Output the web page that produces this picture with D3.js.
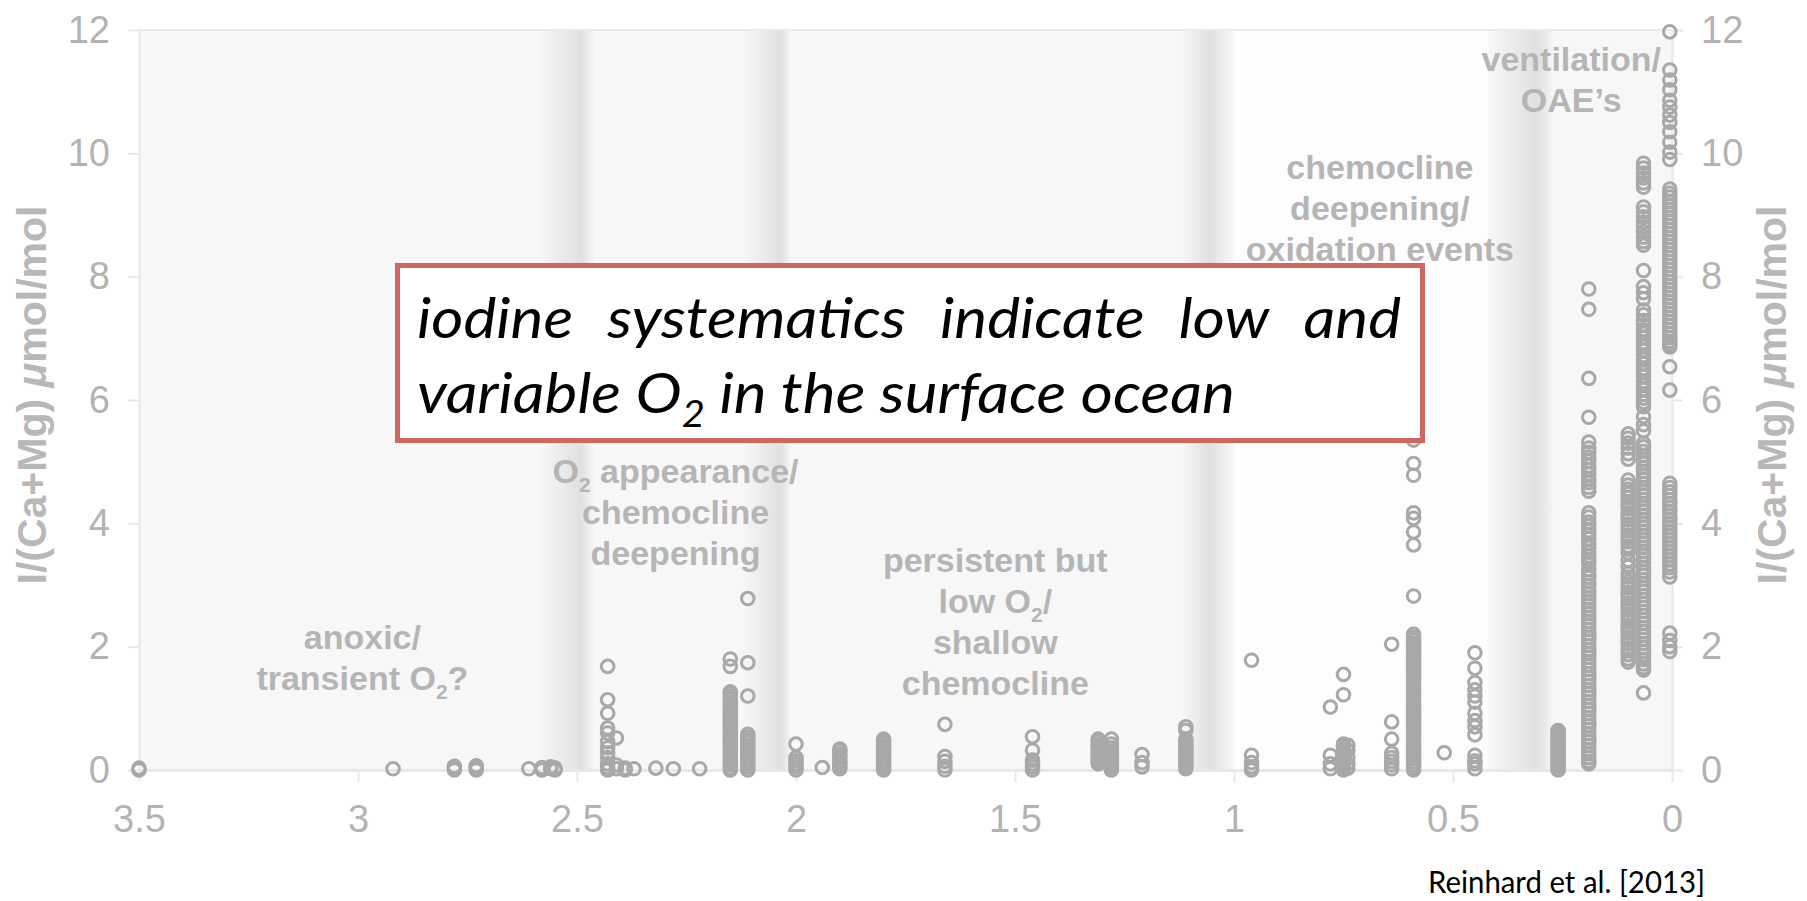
<!DOCTYPE html>
<html>
<head>
<meta charset="utf-8">
<script src="https://cdn.jsdelivr.net/npm/d3@7"></script>
<style>
  html, body { margin: 0; padding: 0; background: #ffffff; }
  svg { display: block; }
</style>
</head>
<body>
<svg id="chart" width="1807" height="901"></svg>
<script>
// I/(Ca+Mg) in µmol/mol against age in Ga.
// Each entry: [age, [values measured at that age]], grouped by interval.
const archean = [
  [3.50, [0.00, 0.03]],
  [2.92, [0.02]],
  [2.78, [0.00, 0.03, 0.06]],
  [2.73, [0.00, 0.04, 0.07]],
  [2.61, [0.02]],
  [2.58, [0.00, 0.04]],
  [2.56, [0.02, 0.05]],
  [2.55, [0.00, 0.03]]
];

const greatOxidation = [
  [2.43, [1.68, 1.14, 0.92, 0.68, 0.60, 0.46, 0.36, 0.28, 0.20, 0.10, 0.04, 0.00]],
  [2.41, [0.52, 0.08, 0.02]],
  [2.39, [0.03, 0.00]],
  [2.37, [0.02]],
  [2.32, [0.03]],
  [2.28, [0.02]],
  [2.22, [0.02]],
  [2.15, [1.80, 1.68, 1.27, 1.24, 1.19, 1.15, 1.10, 1.07, 1.02, 0.98, 0.93, 0.90, 0.86, 0.81,
          0.78, 0.73, 0.69, 0.66, 0.61, 0.57, 0.52, 0.49, 0.44, 0.41, 0.36, 0.32, 0.27, 0.24,
          0.19, 0.15, 0.11, 0.08, 0.03, 0.00]],
  [2.11, [2.78, 1.74, 1.20, 0.58, 0.53, 0.49, 0.45, 0.40, 0.36, 0.32, 0.27, 0.23, 0.19, 0.14,
          0.10, 0.05, 0.00]]
];

const midProterozoic = [
  [2.00, [0.42, 0.20, 0.15, 0.10, 0.05, 0.00]],
  [1.94, [0.04]],
  [1.90, [0.34, 0.31, 0.26, 0.22, 0.19, 0.14, 0.10, 0.06, 0.02]],
  [1.80, [0.50, 0.47, 0.43, 0.38, 0.35, 0.31, 0.26, 0.23, 0.19, 0.14, 0.11, 0.07, 0.03, 0.00]],
  [1.66, [0.74, 0.22, 0.14, 0.06, 0.00]],
  [1.46, [0.54, 0.32, 0.16, 0.10, 0.05, 0.00]],
  [1.31, [0.50, 0.46, 0.41, 0.38, 0.34, 0.29, 0.26, 0.22, 0.17, 0.14, 0.10]],
  [1.28, [0.50, 0.42, 0.36, 0.31, 0.26, 0.22, 0.17, 0.14, 0.10, 0.06, 0.02, 0.00]],
  [1.21, [0.25, 0.12, 0.05]],
  [1.11, [0.70, 0.64, 0.50, 0.46, 0.41, 0.38, 0.33, 0.30, 0.26, 0.21, 0.18, 0.14, 0.09, 0.06, 0.02]]
];

const neoproterozoic = [
  [0.96, [1.78, 0.24, 0.12, 0.05, 0.00]],
  [0.78, [1.02, 0.24, 0.10, 0.02]],
  [0.75, [1.55, 1.22, 0.42, 0.38, 0.33, 0.30, 0.26, 0.21, 0.18, 0.14, 0.09, 0.06, 0.02, 0.00]],
  [0.74, [0.40, 0.32, 0.20, 0.10, 0.03]],
  [0.64, [2.04, 0.78, 0.50, 0.27, 0.20, 0.14, 0.08, 0.02]],
  [0.59, [5.35, 4.97, 4.78, 4.17, 4.08, 3.86, 3.65, 2.82, 2.20, 2.15, 2.11, 2.06, 2.02, 1.97,
          1.93, 1.89, 1.84, 1.80, 1.74, 1.71, 1.66, 1.61, 1.57, 1.53, 1.48, 1.44, 1.39, 1.34,
          1.30, 1.26, 1.21, 1.17, 1.12, 1.07, 1.03, 0.99, 0.94, 0.90, 0.85, 0.80, 0.76, 0.72,
          0.67, 0.62, 0.58, 0.54, 0.49, 0.45, 0.40, 0.35, 0.31, 0.27, 0.22, 0.18, 0.13, 0.08,
          0.04, 0.00]],
  [0.52, [0.28]],
  [0.45, [1.90, 1.65, 1.42, 1.30, 1.20, 1.10, 0.92, 0.80, 0.70, 0.57, 0.24, 0.15, 0.10, 0.02]]
];

const phanerozoic = [
  [0.26, [0.64, 0.61, 0.57, 0.53, 0.50, 0.46, 0.42, 0.39, 0.35, 0.31, 0.28, 0.24, 0.20, 0.17,
          0.13, 0.09, 0.06, 0.02, 0.00]],
  [0.19, [7.80, 7.47, 6.35, 5.72, 5.32, 5.22, 5.15, 5.07, 5.01, 4.93, 4.87, 4.80, 4.72, 4.66,
          4.58, 4.52, 4.17, 4.10, 4.02, 3.96, 3.88, 3.82, 3.75, 3.67, 3.61, 3.53, 3.47, 3.40,
          3.35, 3.25, 3.18, 3.12, 3.05, 2.99, 2.92, 2.86, 2.79, 2.73, 2.67, 2.60, 2.54, 2.47,
          2.41, 2.35, 2.28, 2.21, 2.15, 2.09, 2.02, 1.95, 1.89, 1.83, 1.76, 1.70, 1.63, 1.56,
          1.50, 1.44, 1.37, 1.30, 1.24, 1.18, 1.11, 1.04, 0.98, 0.92, 0.85, 0.78, 0.72, 0.66,
          0.59, 0.52, 0.46, 0.40, 0.33, 0.26, 0.20, 0.14, 0.10]],
  [0.10, [5.45, 5.38, 5.30, 5.22, 5.13, 5.04, 4.70, 4.62, 4.55, 4.48, 4.42, 4.35, 4.30, 4.24,
          4.17, 4.12, 4.06, 3.99, 3.94, 3.88, 3.81, 3.76, 3.70, 3.63, 3.58, 3.52, 3.40, 3.30,
          3.19, 3.13, 3.06, 3.01, 2.95, 2.88, 2.83, 2.77, 2.70, 2.65, 2.59, 2.52, 2.47, 2.41,
          2.34, 2.29, 2.23, 2.16, 2.11, 2.05, 1.98, 1.93, 1.87, 1.80, 1.75]],
  [0.065, [9.84, 9.76, 9.68, 9.60, 9.52, 9.45, 9.13, 9.05, 8.97, 8.88, 8.81, 8.73, 8.64, 8.57,
           8.51, 8.10, 7.84, 7.74, 7.64, 7.46, 7.38, 7.29, 7.22, 7.14, 7.08, 7.01, 6.93, 6.87,
           6.80, 6.72, 6.66, 6.59, 6.51, 6.45, 6.38, 6.30, 6.24, 6.17, 6.09, 6.03, 5.96, 5.89,
           5.73, 5.60, 5.50, 5.30, 5.24, 5.17, 5.10, 5.04, 4.98, 4.91, 4.84, 4.78, 4.72, 4.65,
           4.58, 4.52, 4.46, 4.39, 4.32, 4.26, 4.20, 4.13, 4.06, 4.00, 3.94, 3.87, 3.80, 3.74,
           3.68, 3.61, 3.54, 3.48, 3.42, 3.35, 3.28, 3.22, 3.16, 3.09, 3.02, 2.96, 2.90, 2.83,
           2.76, 2.70, 2.64, 2.57, 2.50, 2.44, 2.38, 2.31, 2.24, 2.18, 2.12, 2.05, 1.98, 1.92,
           1.86, 1.79, 1.72, 1.66, 1.62, 1.25]],
  [0.005, [11.97, 11.35, 11.19, 11.03, 10.86, 10.75, 10.62, 10.50, 10.35, 10.18, 10.02, 9.90,
           9.42, 9.35, 9.29, 9.22, 9.16, 9.09, 9.03, 8.96, 8.90, 8.83, 8.77, 8.70, 8.64, 8.57,
           8.51, 8.44, 8.38, 8.31, 8.25, 8.18, 8.12, 8.05, 7.99, 7.92, 7.86, 7.79, 7.73, 7.66,
           7.60, 7.53, 7.47, 7.40, 7.34, 7.27, 7.21, 7.14, 7.08, 7.01, 6.95, 6.90, 6.86, 6.54,
           6.16, 4.65, 4.58, 4.51, 4.45, 4.38, 4.32, 4.25, 4.19, 4.12, 4.06, 3.99, 3.93, 3.86,
           3.80, 3.73, 3.67, 3.60, 3.54, 3.47, 3.41, 3.34, 3.28, 3.21, 3.13, 2.22, 2.10, 2.00,
           1.92]]
];

const xTicks = [3.5, 3, 2.5, 2, 1.5, 1, 0.5, 0];
const yTicks = [0, 2, 4, 6, 8, 10, 12];

// Shaded transitions between intervals: [start age, darkest age, end age]
const shadeBands = [
  [2.585, 2.49, 2.46],
  [2.12, 2.035, 2.01],
  [1.12, 1.055, 1.00],
  [0.42, 0.305, 0.27]
];
// Interval with the lighter backdrop
const brightSpan = [1.00, 0.42];

// Interval notes: anchor (age, value) of the first line's baseline; "_2" marks a subscript 2
const notes = [
  { age: 2.99,  value: 1.96,  lines: ["anoxic/", "transient O_2?"] },
  { age: 2.275, value: 4.65,  lines: ["O_2 appearance/", "chemocline", "deepening"] },
  { age: 1.545, value: 3.21,  lines: ["persistent but", "low O_2/", "shallow", "chemocline"] },
  { age: 0.667, value: 9.58,  lines: ["chemocline", "deepening/", "oxidation events"] },
  { age: 0.23,  value: 11.33, lines: ["ventilation/", "OAE\u2019s"] }
];

const boxLines = ["iodine systematics indicate low and", "variable O_2 in the surface ocean"];
const citation = "Reinhard et al. [2013]";
const yTitle = ["I/(Ca+Mg) ", "\u03bc", "mol/mol"];

// ---------------------------------------------------------------------------
const svg = d3.select("#chart");
const sansFont = "'Liberation Sans', Arial, Helvetica, sans-serif";
const gray = "#b3b3b3";

const x = d3.scaleLinear().domain([3.5, 0]).range([139, 1672]);
const y = d3.scaleLinear().domain([0, 12]).range([770, 30]);

// Plot backdrop
const defs = svg.append("defs");
const rise = defs.append("linearGradient").attr("id", "shadeRise");
rise.append("stop").attr("offset", 0).attr("stop-color", "#d6d6d6").attr("stop-opacity", 0);
rise.append("stop").attr("offset", 1).attr("stop-color", "#d6d6d6").attr("stop-opacity", 0.7);
const fall = defs.append("linearGradient").attr("id", "shadeFall");
fall.append("stop").attr("offset", 0).attr("stop-color", "#d6d6d6").attr("stop-opacity", 0.7);
fall.append("stop").attr("offset", 1).attr("stop-color", "#d6d6d6").attr("stop-opacity", 0);

const back = svg.append("g");
back.append("rect")
  .attr("x", x(3.5)).attr("y", y(12))
  .attr("width", x(0) - x(3.5)).attr("height", y(0) - y(12))
  .attr("fill", "#f7f7f7");
back.append("rect")
  .attr("x", x(brightSpan[0])).attr("y", y(12))
  .attr("width", x(brightSpan[1]) - x(brightSpan[0])).attr("height", y(0) - y(12))
  .attr("fill", "#fdfdfd");
shadeBands.forEach(([a0, a1, a2]) => {
  back.append("rect")
    .attr("x", x(a0)).attr("y", y(12))
    .attr("width", x(a1) - x(a0)).attr("height", y(0) - y(12))
    .attr("fill", "url(#shadeRise)");
  back.append("rect")
    .attr("x", x(a1)).attr("y", y(12))
    .attr("width", x(a2) - x(a1)).attr("height", y(0) - y(12))
    .attr("fill", "url(#shadeFall)");
});

// Top frame line
svg.append("line")
  .attr("x1", x(3.5)).attr("x2", x(0))
  .attr("y1", y(12)).attr("y2", y(12))
  .attr("stroke", "#ebebeb").attr("stroke-width", 2);

// Axes
function styleAxis(g, domainWidth) {
  g.attr("font-size", 38).attr("font-family", sansFont);
  g.select(".domain").attr("stroke", "#e8e8e8").attr("stroke-width", domainWidth);
  g.selectAll(".tick line").attr("stroke", "#e8e8e8").attr("stroke-width", 2);
  g.selectAll(".tick text").attr("fill", gray);
}
const fmt = d3.format("~g");
svg.append("g")
  .attr("transform", `translate(${x(3.5)},0)`)
  .call(d3.axisLeft(y).tickValues(yTicks).tickSize(11).tickPadding(18).tickSizeOuter(0).tickFormat(fmt))
  .call(g => styleAxis(g, 2));
svg.append("g")
  .attr("transform", `translate(${x(0)},0)`)
  .call(d3.axisRight(y).tickValues(yTicks).tickSize(11).tickPadding(18).tickSizeOuter(0).tickFormat(fmt))
  .call(g => styleAxis(g, 2));
svg.append("g")
  .attr("transform", `translate(0,${y(0)})`)
  .call(d3.axisBottom(x).tickValues(xTicks).tickSize(12).tickPadding(23).tickSizeOuter(0).tickFormat(fmt))
  .call(g => styleAxis(g, 3));

// Axis titles (left and right)
[46, 1786].forEach(tx => {
  const t = svg.append("text")
    .attr("transform", `translate(${tx},395) rotate(-90)`)
    .attr("text-anchor", "middle")
    .attr("font-family", sansFont).attr("font-weight", "bold").attr("font-size", 41)
    .attr("fill", "#b8b8b8");
  t.append("tspan").text(yTitle[0]);
  t.append("tspan").attr("font-style", "italic").text(yTitle[1]);
  t.append("tspan").text(yTitle[2]);
});

// Text with "_2" rendered as a lowered, smaller 2
function richText(sel, str, subSize, drop) {
  str.split("_2").forEach((part, i) => {
    if (i > 0) {
      sel.append("tspan").attr("font-size", subSize).attr("dy", drop).text("2");
      sel.append("tspan").attr("dy", -drop).text(part);
    } else {
      sel.append("tspan").text(part);
    }
  });
}

// Interval notes
const noteG = svg.append("g")
  .attr("font-family", sansFont).attr("font-weight", "bold").attr("font-size", 34)
  .attr("fill", "#b5b5b5").attr("text-anchor", "middle");
notes.forEach(n => {
  n.lines.forEach((line, i) => {
    const t = noteG.append("text").attr("x", x(n.age)).attr("y", y(n.value) + i * 41);
    richText(t, line, 21, 9);
  });
});

// Samples
const points = [archean, greatOxidation, midProterozoic, neoproterozoic, phanerozoic]
  .flatMap(group => group.flatMap(([age, vals]) => vals.map(v => ({ age, v }))));
svg.append("g")
  .selectAll("circle")
  .data(points)
  .join("circle")
  .attr("cx", d => x(d.age))
  .attr("cy", d => y(d.v))
  .attr("r", 6.3)
  .attr("fill", "none")
  .attr("stroke", "#a8a8a8")
  .attr("stroke-width", 3);

// Highlight box
const box = svg.append("g");
box.append("rect")
  .attr("x", 397.5).attr("y", 265.5).attr("width", 1025).attr("height", 175)
  .attr("fill", "#ffffff").attr("stroke", "#cf6760").attr("stroke-width", 5);
const tg = box.append("g")
  .attr("font-family", "Lato, 'Open Sans', sans-serif")
  .attr("font-style", "italic").attr("font-size", 56).attr("fill", "#000000");
const line2 = tg.append("text").attr("x", 0).attr("y", 413);
richText(line2, boxLines[1], 36, 14);
const sx = 818 / line2.node().getComputedTextLength();
tg.attr("transform", `translate(417,0) scale(${sx},1)`);
// First line fully justified across the box
const words = boxLines[0].split(" ");
const wordNodes = words.map(w => tg.append("text").attr("y", 338).text(w));
const widths = wordNodes.map(n => n.node().getComputedTextLength());
const span = 984 / sx;
const gap = (span - d3.sum(widths)) / (words.length - 1);
let cx = 0;
wordNodes.forEach((n, i) => { n.attr("x", cx); cx += widths[i] + gap; });

// Source
svg.append("text")
  .attr("x", 1428).attr("y", 893)
  .attr("font-family", "Lato, 'Open Sans', sans-serif").attr("font-size", 31)
  .attr("fill", "#000000")
  .attr("textLength", 277).attr("lengthAdjust", "spacingAndGlyphs")
  .text(citation);
</script>
</body>
</html>
